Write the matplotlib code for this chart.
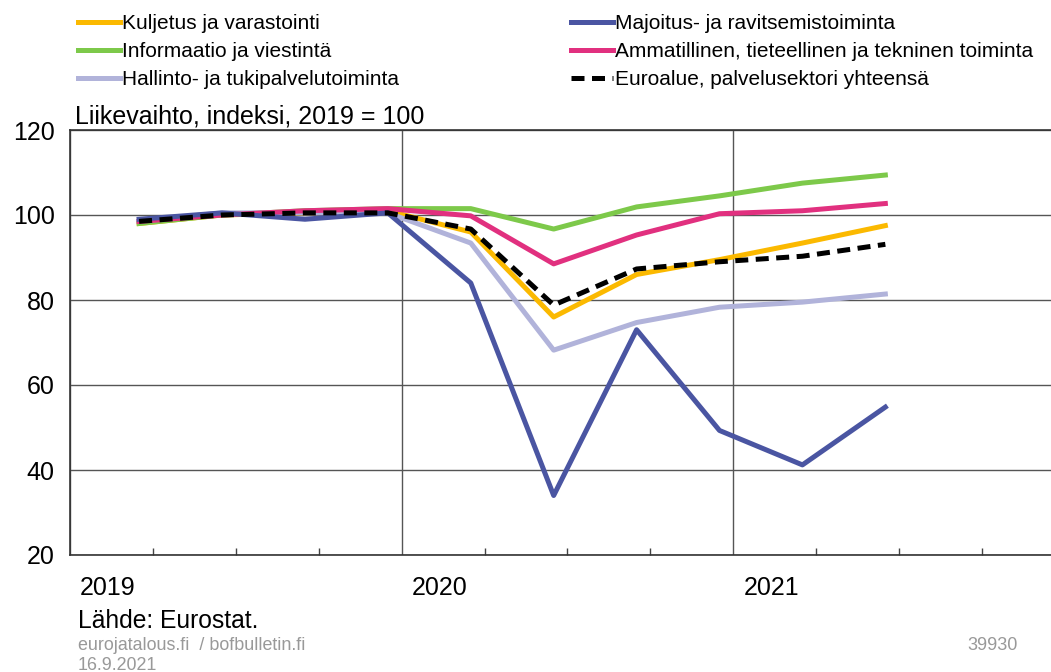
import numpy as np
import matplotlib.pyplot as plt
import matplotlib.transforms as mtransforms

plt.rcParams['font.family'] = ['Liberation Sans', 'DejaVu Sans']

# quarterly observations, 2019Q1 .. 2021Q2 (plotted at mid of the quarter's last month)
years = [2019, 2019, 2019, 2019, 2020, 2020, 2020, 2020, 2021, 2021]
quarters = [1, 2, 3, 4, 1, 2, 3, 4, 1, 2]

kuljetus = [98.0, 100.0, 100.5, 101.0, 96.0, 76.0, 86.0, 89.5, 93.4, 97.5]
majoitus = [99.0, 100.5, 99.0, 100.5, 84.0, 34.0, 73.0, 49.3, 41.2, 54.8]
informaatio = [98.0, 100.0, 101.0, 101.5, 101.5, 96.7, 101.9, 104.5, 107.5, 109.4]
ammatillinen = [98.5, 100.0, 101.0, 101.5, 99.8, 88.5, 95.3, 100.3, 101.0, 102.7]
hallinto = [98.5, 100.5, 100.5, 100.5, 93.4, 68.2, 74.7, 78.3, 79.5, 81.4]
euroalue = [98.5, 100.0, 100.5, 100.5, 96.7, 78.8, 87.3, 89.0, 90.3, 93.1]

x = np.array(years) + (np.array(quarters) * 3 - 0.5) / 12

fig = plt.figure(figsize=(10.51, 6.72), dpi=100)
ax = fig.add_axes([70 / 1051, 1 - 555 / 672, 995 / 1051, 425 / 672])

lw = 3.6
l1, = ax.plot(x, kuljetus, color='#fbb900', lw=lw, label='Kuljetus ja varastointi')
l3, = ax.plot(x, informaatio, color='#7dc94a', lw=lw, label='Informaatio ja viestintä')
l5, = ax.plot(x, hallinto, color='#b1b3da', lw=lw, label='Hallinto- ja tukipalvelutoiminta')
l4, = ax.plot(x, ammatillinen, color='#e1307f', lw=lw, label='Ammatillinen, tieteellinen ja tekninen toiminta')
l2, = ax.plot(x, majoitus, color='#4a55a2', lw=lw, label='Majoitus- ja ravitsemistoiminta')
l6, = ax.plot(x, euroalue, color='black', lw=lw, ls=(0, (2.6, 1.5)),
              label='Euroalue, palvelusektori yhteensä')

ax.set_xlim(2019, 2022)
ax.set_ylim(20, 120)
ax.set_yticks([20, 40, 60, 80, 100, 120])
ax.set_xticks([2019, 2020, 2021])
ax.set_xticks(np.arange(2019, 2022.01, 0.25), minor=True)
ax.set_xticklabels(['2019', '2020', '2021'], ha='left')

ax.tick_params(axis='y', length=0, pad=11, labelsize=18)
ax.tick_params(axis='x', which='major', length=0, pad=15, labelsize=18)
ax.tick_params(axis='x', which='minor', direction='in', length=5, width=1, color='#444444')
offset = mtransforms.ScaledTranslation(10 / 100, 0, fig.dpi_scale_trans)
for lab in ax.get_xticklabels():
    lab.set_transform(lab.get_transform() + offset)
ax.grid(True, which='major', color='#555555', lw=1)
ax.set_axisbelow(True)
for s in ax.spines.values():
    s.set_color('#333333')
    s.set_linewidth(1.2)

ax.text(0.005, 1.003, 'Liikevaihto, indeksi, 2019 = 100', transform=ax.transAxes,
        fontsize=18, va='bottom', ha='left')

leg_kw = dict(loc='upper left', frameon=False, fontsize=15, handlelength=2.0,
              handletextpad=0.12, labelspacing=0.43, borderaxespad=0, borderpad=0)
fig.legend(handles=[l1, l3, l5], bbox_to_anchor=(78 / 1051, 1 - 14 / 672), **leg_kw)
fig.legend(handles=[l2, l4, l6], bbox_to_anchor=(571 / 1051, 1 - 14 / 672), **leg_kw)

fig.text(78 / 1051, 1 - 628 / 672, 'Lähde: Eurostat.', fontsize=17.7, va='baseline', ha='left')
fig.text(78 / 1051, 1 - 650 / 672, 'eurojatalous.fi  / bofbulletin.fi', fontsize=12.9,
         color='#999999', va='baseline', ha='left')
fig.text(78 / 1051, 1 - 670 / 672, '16.9.2021', fontsize=12.9, color='#999999',
         va='baseline', ha='left')
fig.text(1018 / 1051, 1 - 650 / 672, '39930', fontsize=13, color='#999999',
         va='baseline', ha='right')

fig.savefig('out.png', dpi=100)
